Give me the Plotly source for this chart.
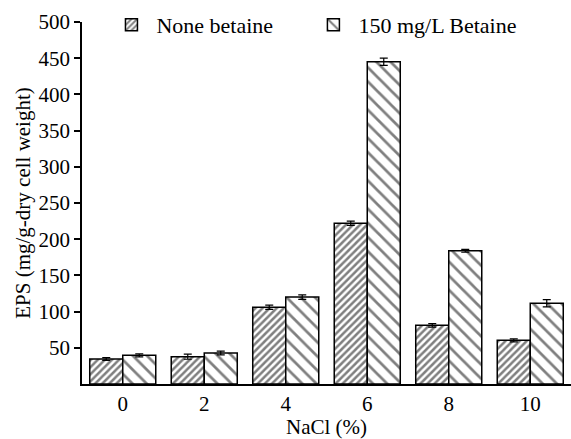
import plotly.graph_objects as go

categories = ["0", "2", "4", "6", "8", "10"]
none_betaine = [34.5, 37.7, 106, 222, 81, 60.3]
none_err = [2, 3.5, 3, 3, 2.5, 2]
betaine = [39.6, 42.8, 120, 445, 184, 111.5]
betaine_err = [2, 2.5, 3, 5, 2, 5]
y_ticks = [50, 100, 150, 200, 250, 300, 350, 400, 450, 500]

font_family = "Liberation Serif"

fig = go.Figure()
fig.add_trace(go.Bar(
    x=categories, y=none_betaine, name="None betaine", legend="legend",
    error_y=dict(type="data", array=none_err, color="black", thickness=1.2, width=4),
    marker=dict(color="white", line=dict(color="black", width=1.5),
                pattern=dict(shape="/", size=5, solidity=0.5, fgcolor="black", bgcolor="white")),
))
fig.add_trace(go.Bar(
    x=categories, y=betaine, name="150 mg/L Betaine", legend="legend2",
    error_y=dict(type="data", array=betaine_err, color="black", thickness=1.2, width=4),
    marker=dict(color="white", line=dict(color="black", width=1.5),
                pattern=dict(shape="\\", size=10, solidity=0.27, fgcolor="black", bgcolor="white")),
))

legend_common = dict(orientation="h", y=1.05, xanchor="left", yanchor="top",
                     bgcolor="rgba(0,0,0,0)", font=dict(size=22, family=font_family),
                     itemwidth=40)

fig.update_layout(
    width=571, height=439,
    margin=dict(l=82, r=0, t=22, b=55),
    plot_bgcolor="white", paper_bgcolor="white",
    barmode="group", bargap=0.19, bargroupgap=0,
    font=dict(family=font_family, size=21, color="black"),
    showlegend=True,
    legend=dict(x=0.05, **legend_common),
    legend2=dict(x=0.463, **legend_common),
    xaxis=dict(
        title=dict(text="NaCl (%)", font=dict(size=21, family=font_family), standoff=2),
        showline=True, linecolor="black", linewidth=1.5,
        ticks="", showgrid=False, range=[-0.5, 5.5],
        tickfont=dict(size=21, family=font_family),
    ),
    yaxis=dict(
        title=dict(text="EPS (mg/g-dry cell weight)", font=dict(size=21, family=font_family), standoff=2),
        range=[0, 500], tickvals=y_ticks,
        showline=True, linecolor="black", linewidth=1.5,
        ticks="outside", ticklen=6, tickwidth=1.5, tickcolor="black",
        showgrid=False, zeroline=False,
        tickfont=dict(size=21, family=font_family),
    ),
)

fig.write_html("out.html")
